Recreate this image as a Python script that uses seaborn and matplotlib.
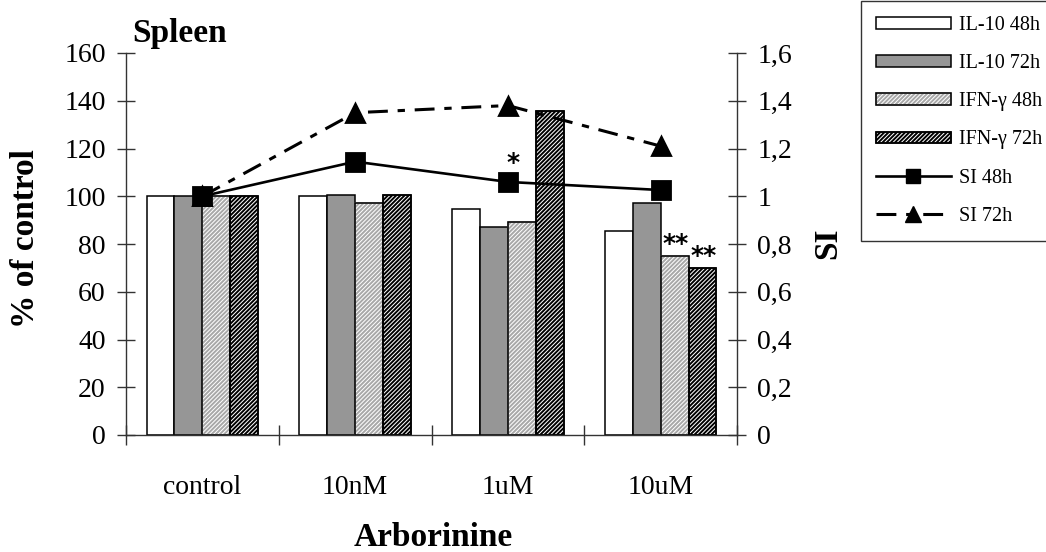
import matplotlib
matplotlib.use("Agg")
import matplotlib.pyplot as plt
import numpy as np
import pandas as pd
import seaborn as sns
from matplotlib.patches import Rectangle
from matplotlib.lines import Line2D
from matplotlib.legend_handler import HandlerTuple
from matplotlib.ticker import FixedLocator, FuncFormatter

# ---- data -------------------------------------------------------------
doses = ["control", "10nM", "1uM", "10uM"]
bar_series = ["IL-10 48h", "IL-10 72h", "IFN-γ 48h", "IFN-γ 72h"]
il10_48h = [100, 100, 94.7, 85.6]
il10_72h = [100, 100.6, 87.2, 97.0]
ifng_48h = [100, 97.0, 89.3, 75.0]
ifng_72h = [100, 100.6, 135.8, 69.8]

si_series = ["SI 48h", "SI 72h"]
si_48h = [1.0, 1.145, 1.06, 1.026]
si_72h = [1.0, 1.35, 1.38, 1.21]

pct_ticks = [0, 20, 40, 60, 80, 100, 120, 140, 160]
si_ticks = [0, 0.2, 0.4, 0.6, 0.8, 1.0, 1.2, 1.4, 1.6]

# significance marks: (series, dose, text)
stars = [("SI 48h", "1uM", "*"),
         ("IFN-γ 48h", "10uM", "**"),
         ("IFN-γ 72h", "10uM", "**")]

# ---- style --------------------------------------------------------------
plt.rcParams["font.family"] = ["Liberation Serif", "DejaVu Serif"]
plt.rcParams["hatch.linewidth"] = 1.4

fills = {"IL-10 48h": "white", "IL-10 72h": "#969696",
         "IFN-γ 48h": "white", "IFN-γ 72h": "white"}
hatches = {"IFN-γ 48h": ("////////", "#a8a8a8"),
           "IFN-γ 72h": ("////////", "black")}
edge_lw = 1.1
si_style = {
    "SI 48h": dict(marker="s", ls="-", lw=1.9, ms=12.5),
    "SI 72h": dict(marker="^", ls=(0, (6.5, 3.2, 2.4, 3.2)), lw=2.2, ms=13.5),
}

bars = pd.DataFrame({
    "dose": doses * 4,
    "series": np.repeat(bar_series, len(doses)),
    "value": il10_48h + il10_72h + ifng_48h + ifng_72h,
})
si = pd.DataFrame({
    "dose": doses * 2,
    "series": np.repeat(si_series, len(doses)),
    "SI": si_48h + si_72h,
})

W, H, DPI = 1046, 552, 100
fig = plt.figure(figsize=(W / DPI, H / DPI), dpi=DPI)
fig.patch.set_facecolor("white")
ax = fig.add_axes([126 / W, 1 - 435 / H, (737 - 126) / W, (435 - 53) / H])

sns.barplot(data=bars, x="dose", y="value", hue="series", order=doses,
            hue_order=bar_series, palette=fills, saturation=1, width=0.73,
            edgecolor="black", linewidth=edge_lw, errorbar=None,
            legend=False, ax=ax)

# hatched bars: stripes in the hatch colour, then a black outline on top
for name, cont in zip(bar_series, ax.containers):
    if name in hatches:
        pattern, hcol = hatches[name]
        for p in cont.patches:
            p.set_hatch(pattern)
            p.set_edgecolor(hcol)
            ax.add_patch(Rectangle((p.get_x(), p.get_y()), p.get_width(),
                                   p.get_height(), fill=False, ec="black",
                                   lw=edge_lw, zorder=p.get_zorder() + 0.1))

ax2 = ax.twinx()
sns.pointplot(data=si, x="dose", y="SI", hue="series", order=doses,
              hue_order=si_series, palette=["black", "black"],
              markers=[si_style[s]["marker"] for s in si_series],
              linestyles=[si_style[s]["ls"] for s in si_series],
              errorbar=None, dodge=False, legend=False, ax=ax2)
for line, s in zip(ax2.lines, si_series):
    line.set_linewidth(si_style[s]["lw"])
    line.set_markersize(si_style[s]["ms"])

# ---- axes -----------------------------------------------------------------
ax.set_ylim(pct_ticks[0], pct_ticks[-1])
ax2.set_ylim(si_ticks[0], si_ticks[-1])
ax.set_xlim(-0.5, len(doses) - 0.5)
ax.set_yticks(pct_ticks)
ax.set_yticklabels([str(t) for t in pct_ticks])
ax2.set_yticks(si_ticks)
ax2.yaxis.set_major_formatter(FuncFormatter(lambda v, _: f"{v:g}".replace(".", ",")))

ax.xaxis.set_major_locator(FixedLocator(np.arange(len(doses) + 1) - 0.5))
ax.xaxis.set_major_formatter(FuncFormatter(lambda v, _: ""))
ax.xaxis.set_minor_locator(FixedLocator(np.arange(len(doses))))
ax.xaxis.set_minor_formatter(FuncFormatter(lambda v, _: doses[int(round(v))]))
ax.tick_params(axis="x", which="major", direction="inout", length=14,
               width=1, color="#333333")
ax.tick_params(axis="x", which="minor", length=0, pad=29, labelsize=20)
ax.tick_params(axis="y", direction="inout", length=13, width=1,
               color="#333333", labelsize=20, pad=8)
ax2.tick_params(axis="y", direction="inout", length=13, width=1,
                color="#333333", labelsize=20, pad=8)
ax.set_xlabel("")
ax.set_ylabel("")
ax2.set_ylabel("")

for a in (ax, ax2):
    a.grid(False)
    a.spines["top"].set_visible(False)
    for sp in a.spines.values():
        sp.set_color("#333333")
        sp.set_linewidth(1)
ax.spines["right"].set_visible(False)
ax2.spines["left"].set_visible(False)
ax2.spines["bottom"].set_visible(False)
ax.patch.set_visible(False)

# ---- significance marks ----------------------------------------------------
for series, dose, txt in stars:
    i = doses.index(dose)
    if series in bar_series:
        p = ax.containers[bar_series.index(series)].patches[i]
        ax.annotate(txt, (p.get_x() + p.get_width() / 2, p.get_height()),
                    xytext=(1, 0), textcoords="offset points", ha="center",
                    va="bottom", fontsize=18, fontweight="bold",
                    family="DejaVu Sans")
    else:
        vals = si_48h if series == "SI 48h" else si_72h
        ax2.annotate(txt, (i, vals[i]), xytext=(4, 5),
                     textcoords="offset points", ha="center", va="bottom",
                     fontsize=18, fontweight="bold", family="DejaVu Sans")

# ---- titles and labels ------------------------------------------------------
fig.text(132 / W, 1 - 42 / H, "Spleen", ha="left", va="baseline",
         fontsize=24, fontweight="bold")
fig.text(26 / W, 1 - 239 / H, "% of control", rotation=90, ha="center",
         va="center", fontsize=24, fontweight="bold")
fig.text(828 / W, 1 - 243 / H, "SI", rotation=90, ha="center",
         va="center", fontsize=24, fontweight="bold")
fig.text(433 / W, 1 - 537 / H, "Arborinine", ha="center", va="center",
         fontsize=24, fontweight="bold")

# ---- legend -----------------------------------------------------------------
handles = []
for name in bar_series:
    if name in hatches:
        pattern, hcol = hatches[name]
        h = (Rectangle((0, 0), 1, 1, fc="white", ec=hcol, hatch=pattern, lw=edge_lw),
             Rectangle((0, 0), 1, 1, fill=False, ec="black", lw=edge_lw))
    else:
        h = Rectangle((0, 0), 1, 1, fc=fills[name], ec="black", lw=edge_lw)
    handles.append(h)
for s in si_series:
    st = si_style[s]
    handles.append(Line2D([], [], color="black", marker=st["marker"],
                          ls=st["ls"], lw=st["lw"], ms=st["ms"] * 0.85))

leg = fig.legend(handles, bar_series + si_series, loc="upper left",
                 bbox_to_anchor=(861 / W, 1 - 1 / H),
                 bbox_transform=fig.transFigure, borderaxespad=0,
                 fontsize=14.5, frameon=True, fancybox=False,
                 handlelength=3.7, handleheight=0.5, handletextpad=0.4,
                 labelspacing=0.95, borderpad=0.75,
                 handler_map={tuple: HandlerTuple(ndivide=1, pad=0)})
leg.get_frame().set_edgecolor("black")
leg.get_frame().set_linewidth(1)

fig.savefig("out.png", dpi=DPI, facecolor="white")
